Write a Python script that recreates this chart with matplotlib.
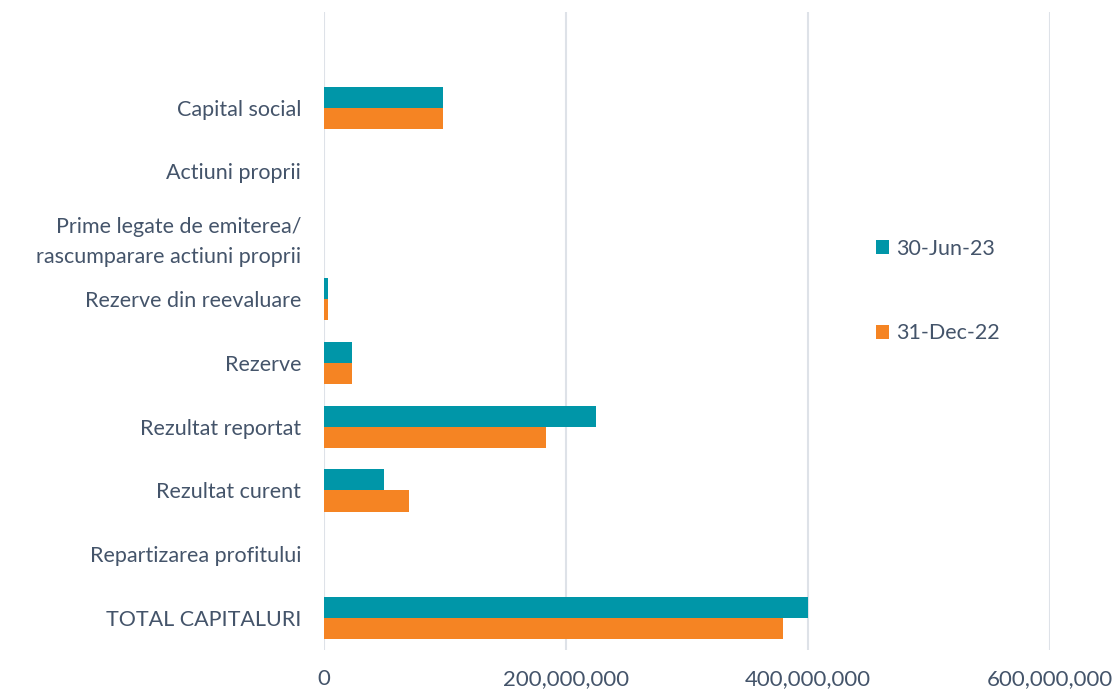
import numpy as np
import matplotlib
matplotlib.use('Agg')
import matplotlib.pyplot as plt
from matplotlib.ticker import FuncFormatter

categories = ['Capital social', 'Actiuni proprii',
              'Prime legate de emiterea/\nrascumparare actiuni proprii',
              'Rezerve din reevaluare', 'Rezerve', 'Rezultat reportat',
              'Rezultat curent', 'Repartizarea profitului', 'TOTAL CAPITALURI']
jun23 = [98.3e6, 0, 0, 3.3e6, 23e6, 225e6, 49.6e6, 0, 400e6]
dec22 = [98.3e6, 0, 0, 3.3e6, 23e6, 183.5e6, 70e6, 0, 379e6]
series_names = ['30-Jun-23', '31-Dec-22']

teal = '#0096A8'
orange = '#F58423'
text_col = '#44546A'
grid_col = '#DEE2E8'

plt.rcParams['font.family'] = ['Lato', 'DejaVu Sans']

fig = plt.figure(figsize=(11.12, 6.91), dpi=100)
ax = fig.add_axes([324 / 1112, 1 - 650 / 691, (1050 - 324) / 1112, (650 - 12) / 691])

y = np.arange(len(categories))
h = 0.33
ax.barh(y - h / 2, jun23, height=h, color=teal, label=series_names[0], zorder=3)
ax.barh(y + h / 2, dec22, height=h, color=orange, label=series_names[1], zorder=3)

ax.set_ylim(len(categories) - 0.5, -1.5)
ax.set_xlim(0, 600e6)
ax.set_xticks([0, 200e6, 400e6, 600e6])
ax.xaxis.set_major_formatter(FuncFormatter(lambda v, p: f'{int(v):,}'))
ax.set_yticks(y)
ax.set_yticklabels(categories, fontsize=15.5, color=text_col, linespacing=1.6)
ax.tick_params(axis='x', labelsize=16, colors=text_col, length=0, pad=14)
ax.tick_params(axis='y', length=0, pad=16.5)
ax.grid(axis='x', color=grid_col, linewidth=1.5, zorder=0)
for s in ax.spines.values():
    s.set_visible(False)

leg = ax.legend(loc='center left', bbox_to_anchor=(857 / 1112, 1 - 291 / 691),
                bbox_transform=fig.transFigure, frameon=False, fontsize=15.5,
                labelspacing=3.0, handlelength=0.6, handleheight=0.6,
                handletextpad=0.3)
for t in leg.get_texts():
    t.set_color(text_col)

fig.savefig('out.png', dpi=100)
